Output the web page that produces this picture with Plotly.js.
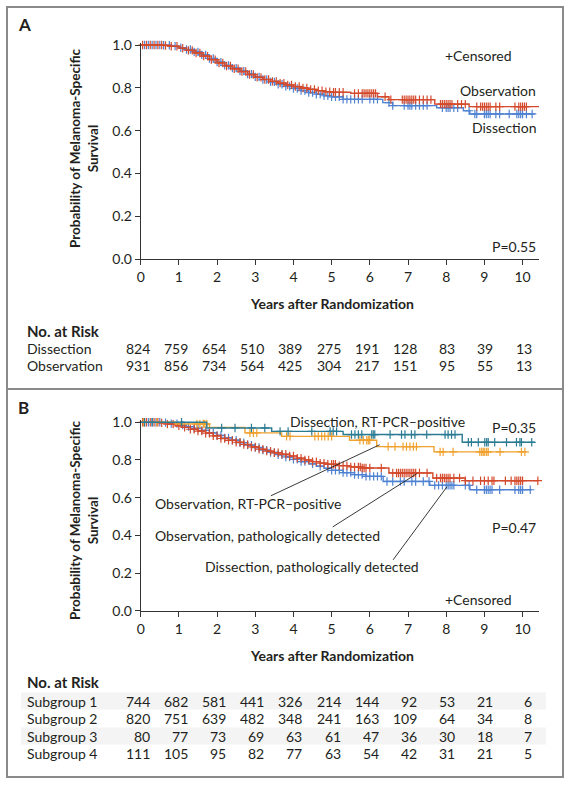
<!DOCTYPE html>
<html>
<head>
<meta charset="utf-8">
<script src="https://cdn.plot.ly/plotly-3.0.1.min.js"></script>
<style>
html,body{margin:0;padding:0;background:#fff;}
#chart{width:569px;height:785px;}
</style>
</head>
<body>
<div id="chart"></div>
<script>
// ---------------- DATA ----------------
const yearTicks = [0,1,2,3,4,5,6,7,8,9,10];
const survTicks = [0,0.2,0.4,0.6,0.8,1.0];

// Panel A: Kaplan-Meier step points (time, survival)
const dissA_t = [0,0.6,0.8,1.0,1.2,1.4,1.6,1.8,2.0,2.2,2.4,2.6,2.8,3.0,3.2,3.4,3.6,3.8,4.0,4.2,4.4,4.6,4.8,5.0,5.3,6.34,6.6,7.75,8.45,8.62,10.32];
const dissA_s = [1,0.999,0.995,0.987,0.979,0.968,0.954,0.937,0.92,0.905,0.892,0.878,0.864,0.851,0.839,0.828,0.817,0.807,0.797,0.787,0.778,0.770,0.763,0.758,0.746,0.731,0.717,0.707,0.693,0.678,0.678];
const dissA_cens = [0.1,0.2,0.3,0.4,0.5,0.6,0.75,0.9,1.05,1.2,1.3,1.4,1.5,1.6,1.7,1.8,1.9,2.0,2.1,2.2,2.3,2.4,2.5,2.6,2.7,2.8,2.9,3.0,3.1,3.2,3.3,3.4,3.5,3.6,3.7,3.8,3.9,4.0,4.1,4.2,4.3,4.4,4.5,4.6,4.7,4.8,4.9,5.0,5.1,5.2,5.3,5.4,5.5,5.6,5.7,5.8,6.0,6.1,6.2,6.5,6.6,6.9,7.0,7.05,7.1,7.2,7.3,7.4,7.5,7.9,8.0,8.05,8.1,8.2,8.3,8.6,8.75,8.8,9.0,9.05,9.1,9.15,9.3,9.4,9.65,9.85,9.9,9.95,10.0,10.1,10.25];

const obsA_t = [0,0.6,0.8,1.0,1.2,1.4,1.6,1.8,2.0,2.2,2.4,2.6,2.8,3.0,3.2,3.4,3.6,3.8,4.0,4.2,4.4,4.6,4.8,5.0,5.5,6.2,6.5,7.7,8.6,10.5];
const obsA_s = [1,0.998,0.994,0.985,0.975,0.963,0.948,0.932,0.916,0.902,0.889,0.876,0.862,0.849,0.839,0.830,0.822,0.814,0.806,0.799,0.793,0.787,0.782,0.779,0.774,0.758,0.745,0.724,0.712,0.712];
const obsA_cens = [0.05,0.15,0.25,0.35,0.45,0.55,0.65,0.8,0.95,1.1,1.25,1.35,1.45,1.55,1.65,1.75,1.85,1.95,2.05,2.15,2.25,2.35,2.45,2.55,2.65,2.75,2.85,2.95,3.05,3.15,3.25,3.35,3.45,3.55,3.65,3.75,3.85,3.95,4.05,4.15,4.25,4.35,4.45,4.55,4.65,4.75,4.85,4.95,5.05,5.1,5.2,5.3,5.6,5.7,5.8,5.85,5.9,5.95,6.0,6.05,6.1,6.15,6.4,6.55,6.85,6.9,6.95,7.0,7.05,7.1,7.15,7.2,7.3,7.4,7.5,7.6,7.85,7.9,7.95,8.0,8.05,8.1,8.15,8.3,8.4,8.5,8.8,8.9,8.95,9.0,9.05,9.1,9.15,9.3,9.4,9.8,9.9,9.95,10.0,10.05,10.1,10.5];

// Panel B
const dissPath_t = [0,0.6,0.8,1.0,1.2,1.4,1.6,1.8,2.0,2.2,2.4,2.6,2.8,3.0,3.2,3.4,3.6,3.8,4.0,4.2,4.4,4.6,4.8,5.0,5.3,5.6,5.9,6.35,7.57,8.62,10.24];
const dissPath_s = [1,0.998,0.993,0.985,0.977,0.968,0.957,0.944,0.93,0.917,0.905,0.892,0.879,0.866,0.852,0.84,0.828,0.816,0.803,0.791,0.779,0.767,0.756,0.745,0.733,0.722,0.713,0.686,0.665,0.642,0.642];
const dissPath_cens = [0.1,0.2,0.3,0.4,0.5,0.65,0.8,0.95,1.1,1.25,1.4,1.5,1.6,1.7,1.8,1.9,2.0,2.1,2.2,2.3,2.4,2.5,2.6,2.7,2.8,2.9,3.0,3.1,3.2,3.3,3.4,3.5,3.6,3.7,3.8,3.9,4.0,4.1,4.2,4.3,4.5,4.7,4.9,5.0,5.1,5.2,5.3,5.4,5.5,5.6,5.7,5.8,5.9,6.0,6.1,6.2,6.3,6.45,6.6,6.8,6.9,7.1,7.2,7.4,7.55,7.7,7.8,7.9,8.0,8.05,8.1,8.15,8.2,8.5,8.6,8.8,9.0,9.05,9.1,9.15,9.2,9.4,9.8,9.9,9.95,10.0,10.2];

const obsPath_t = [0,0.5,0.7,0.9,1.1,1.3,1.5,1.7,1.9,2.1,2.3,2.5,2.7,2.9,3.1,3.3,3.5,3.7,3.9,4.1,4.3,4.5,4.7,4.9,5.2,5.5,5.8,6.5,7.65,8.5,10.4];
const obsPath_s = [1,0.997,0.99,0.981,0.973,0.963,0.953,0.942,0.928,0.914,0.904,0.894,0.882,0.869,0.857,0.847,0.838,0.83,0.821,0.81,0.8,0.791,0.783,0.777,0.77,0.763,0.757,0.731,0.704,0.69,0.69];
const obsPath_cens = [0.05,0.15,0.25,0.35,0.45,0.55,0.7,0.85,1.0,1.15,1.3,1.4,1.5,1.6,1.7,1.8,1.9,2.0,2.1,2.2,2.3,2.4,2.5,2.6,2.7,2.8,2.9,3.0,3.1,3.2,3.3,3.4,3.5,3.6,3.7,3.8,3.9,4.0,4.1,4.2,4.3,4.4,4.5,4.6,4.7,4.8,4.9,5.0,5.05,5.1,5.2,5.3,5.4,5.5,5.6,5.7,5.75,5.8,5.85,5.9,6.0,6.3,6.6,6.7,6.75,6.8,6.85,6.9,6.95,7.0,7.05,7.1,7.15,7.2,7.3,7.5,7.75,7.85,7.9,7.95,8.0,8.05,8.1,8.2,8.35,8.5,8.7,8.9,9.0,9.1,9.2,9.25,9.55,9.7,9.8,9.85,9.9,9.95,10.0,10.4];

const obsPcr_t = [0,0.9,1.8,2.73,3.69,5.47,6.18,7.68,10.1];
const obsPcr_s = [1,0.991,0.973,0.944,0.925,0.905,0.871,0.843,0.843];
const obsPcr_cens = [0.07,0.42,1.47,1.55,1.64,1.68,1.73,2.86,2.95,3.04,3.82,3.91,4.56,4.65,4.74,4.82,4.91,5.0,5.74,5.83,5.92,5.96,6.0,6.48,6.66,6.87,6.96,7.05,7.14,7.22,7.84,7.92,8.18,8.88,8.93,8.97,9.01,9.06,9.1,9.41,9.97,10.06];

const dissPcr_t = [0,1.73,3.43,5.3,8.42,10.32];
const dissPcr_s = [1,0.97,0.952,0.935,0.894,0.894];
const dissPcr_cens = [0.1,0.3,1.07,2.12,2.47,2.9,3.25,3.65,3.86,4.48,4.96,5.04,5.13,5.52,5.61,5.7,5.79,6.05,6.09,6.13,6.53,6.83,6.92,7.09,7.18,7.49,7.97,8.05,8.14,8.23,8.58,8.66,8.84,9.01,9.06,9.1,9.27,9.58,9.84,9.93,9.97,10.24];

// Numbers at risk
const riskA_labels = ['Dissection','Observation'];
const riskA_dissection = [824,759,654,510,389,275,191,128,83,39,13];
const riskA_observation = [931,856,734,564,425,304,217,151,95,55,13];
const riskB_labels = ['Subgroup 1','Subgroup 2','Subgroup 3','Subgroup 4'];
const riskB_sub1 = [744,682,581,441,326,214,144,92,53,21,6];
const riskB_sub2 = [820,751,639,482,348,241,163,109,64,34,8];
const riskB_sub3 = [80,77,73,69,63,61,47,36,30,18,7];
const riskB_sub4 = [111,105,95,82,77,63,54,42,31,21,5];

// ---------------- STYLE / HELPERS ----------------
const W = 569, H = 785;
const PX = x => x / W;
const PY = y => 1 - y / H;
const FONT = 'Lato, "Open Sans", sans-serif';
const TXT = '#231f20';
const C_RED = '#d44a2c', C_BLUE = '#4f82d2', C_TEAL = '#2b7b92', C_ORANGE = '#f0a12e';

function survAt(t, ts, ss) {
  let v = ss[0];
  for (let i = 0; i < ts.length; i++) { if (ts[i] <= t) v = ss[i]; else break; }
  return v;
}
function curve(ts, ss, color, xa, ya) {
  return {x: ts, y: ss, type: 'scatter', mode: 'lines', xaxis: xa, yaxis: ya,
    line: {shape: 'hv', color: color, width: 1.4}, hoverinfo: 'skip', showlegend: false, cliponaxis: false};
}
function cens(times, ts, ss, color, xa, ya) {
  return {x: times, y: times.map(t => survAt(t, ts, ss)), type: 'scatter', mode: 'markers', xaxis: xa, yaxis: ya,
    marker: {symbol: 'cross-thin', size: 6, color: color, line: {color: color, width: 1.2}},
    hoverinfo: 'skip', showlegend: false, cliponaxis: false};
}

const traces = [
  curve(dissA_t, dissA_s, C_BLUE, 'x', 'y'),
  cens(dissA_cens, dissA_t, dissA_s, C_BLUE, 'x', 'y'),
  curve(obsA_t, obsA_s, C_RED, 'x', 'y'),
  cens(obsA_cens, obsA_t, obsA_s, C_RED, 'x', 'y'),

  curve(dissPath_t, dissPath_s, C_BLUE, 'x2', 'y2'),
  cens(dissPath_cens, dissPath_t, dissPath_s, C_BLUE, 'x2', 'y2'),
  curve(obsPath_t, obsPath_s, C_RED, 'x2', 'y2'),
  cens(obsPath_cens, obsPath_t, obsPath_s, C_RED, 'x2', 'y2'),
  curve(obsPcr_t, obsPcr_s, C_ORANGE, 'x2', 'y2'),
  cens(obsPcr_cens, obsPcr_t, obsPcr_s, C_ORANGE, 'x2', 'y2'),
  curve(dissPcr_t, dissPcr_s, C_TEAL, 'x2', 'y2'),
  cens(dissPcr_cens, dissPcr_t, dissPcr_s, C_TEAL, 'x2', 'y2')
];

function xAxisDef(anchor) {
  return {domain: [PX(140.7), PX(539)], range: [0, 10.43], anchor: anchor,
    tickvals: yearTicks, ticks: 'outside', ticklen: 5, tickwidth: 1, tickcolor: '#333',
    showline: true, linecolor: '#333', linewidth: 1, showgrid: false, zeroline: false,
    tickfont: {family: FONT, size: 14, color: TXT}, fixedrange: true};
}
function yAxisDef(anchor, bottomPx, topPx) {
  return {domain: [PY(bottomPx), PY(topPx)], range: [0, 1.01], anchor: anchor,
    tickvals: survTicks, tickformat: '.1f', ticks: 'outside', ticklen: 5, tickwidth: 1, tickcolor: '#333',
    showline: true, linecolor: '#333', linewidth: 1, showgrid: false, zeroline: false,
    tickfont: {family: FONT, size: 14, color: TXT}, fixedrange: true};
}

const annotations = [];
function txt(text, xpx, ypx, opts) {
  annotations.push(Object.assign({text: text, x: PX(xpx), y: PY(ypx), xref: 'paper', yref: 'paper',
    showarrow: false, xanchor: 'left', yanchor: 'middle',
    font: {family: FONT, size: 14, color: TXT}}, opts || {}));
}

// Panel letters
txt('<b>A</b>', 16, 25, {font: {family: FONT, size: 17, color: TXT}});
txt('<b>B</b>', 16, 407, {font: {family: FONT, size: 17, color: TXT}});

// Y titles
[149, 521].forEach(cy => {
  annotations.push({text: '<b>Probability of Melanoma-Specific<br>Survival</b>', x: PX(84), y: PY(cy),
    xref: 'paper', yref: 'paper', showarrow: false, textangle: -90, xanchor: 'center', yanchor: 'middle',
    font: {family: FONT, size: 13.5, color: TXT}});
});
// X titles
txt('<b>Years after Randomization</b>', 332, 303, {xanchor: 'center'});
txt('<b>Years after Randomization</b>', 332, 655, {xanchor: 'center'});

// Panel A labels
txt('+Censored', 443, 56);
txt('Observation', 538, 91, {xanchor: 'right'});
txt('Dissection', 538, 128, {xanchor: 'right'});
txt('P=0.55', 538, 247, {xanchor: 'right'});

// Panel B labels
txt('Dissection, RT-PCR–positive', 377, 421.5, {xanchor: 'center'});
txt('P=0.35', 538, 427, {xanchor: 'right'});
txt('Observation, RT-PCR–positive', 248, 503, {xanchor: 'center'});
txt('Observation, pathologically detected', 267, 535, {xanchor: 'center'});
txt('Dissection, pathologically detected', 312, 566, {xanchor: 'center'});
txt('P=0.47', 538, 527, {xanchor: 'right'});
txt('+Censored', 443, 599);

// Risk tables
txt('<b>No. at Risk</b>', 25, 331, {font: {family: FONT, size: 15, color: TXT}});
txt('<b>No. at Risk</b>', 25, 682, {font: {family: FONT, size: 15, color: TXT}});
function riskRow(label, values, ypx, xa) {
  txt(label, 25, ypx);
  values.forEach((v, i) => {
    annotations.push({text: String(v), x: yearTicks[i], xref: xa, y: PY(ypx), yref: 'paper',
      xanchor: 'right', yanchor: 'middle', xshift: 11, showarrow: false,
      font: {family: FONT, size: 14, color: TXT}});
  });
}
riskRow(riskA_labels[0], riskA_dissection, 348, 'x');
riskRow(riskA_labels[1], riskA_observation, 365.5, 'x');
const rowYB = [701, 718.5, 736, 753];
[riskB_sub1, riskB_sub2, riskB_sub3, riskB_sub4].forEach((vals, i) => riskRow(riskB_labels[i], vals, rowYB[i], 'x2'));

// Shapes
const shapes = [
  {type: 'rect', xref: 'paper', yref: 'paper', x0: PX(21), x1: PX(546), y0: PY(rowYB[0] - 8.5), y1: PY(rowYB[0] + 8.5), fillcolor: '#f4f4f4', line: {width: 0}, layer: 'below'},
  {type: 'rect', xref: 'paper', yref: 'paper', x0: PX(21), x1: PX(546), y0: PY(rowYB[2] - 8.5), y1: PY(rowYB[2] + 8.5), fillcolor: '#f4f4f4', line: {width: 0}, layer: 'below'},
  {type: 'rect', xref: 'paper', yref: 'paper', x0: PX(7), x1: PX(563), y0: PY(7), y1: PY(389), line: {color: '#8a8a8a', width: 2}},
  {type: 'rect', xref: 'paper', yref: 'paper', x0: PX(7), x1: PX(563), y0: PY(389), y1: PY(777), line: {color: '#8a8a8a', width: 2}},
  {type: 'line', xref: 'x2', yref: 'y2', x0: 3.41, y0: 0.61, x1: 6.26, y1: 0.881, line: {color: '#222', width: 0.9}},
  {type: 'line', xref: 'x2', yref: 'y2', x0: 5.03, y0: 0.445, x1: 7.23, y1: 0.727, line: {color: '#222', width: 0.9}},
  {type: 'line', xref: 'x2', yref: 'y2', x0: 6.61, y0: 0.27, x1: 8.02, y1: 0.658, line: {color: '#222', width: 0.9}}
];

const layout = {
  width: W, height: H, margin: {l: 0, r: 0, t: 0, b: 0},
  paper_bgcolor: '#fff', plot_bgcolor: 'rgba(0,0,0,0)', showlegend: false,
  font: {family: FONT, color: TXT},
  xaxis: xAxisDef('y'),
  yaxis: yAxisDef('x', 259, 42.9),
  xaxis2: xAxisDef('y2'),
  yaxis2: yAxisDef('x2', 610.7, 420.4),
  annotations: annotations,
  shapes: shapes
};

Plotly.newPlot('chart', traces, layout, {staticPlot: true, displayModeBar: false});
</script>
</body>
</html>
